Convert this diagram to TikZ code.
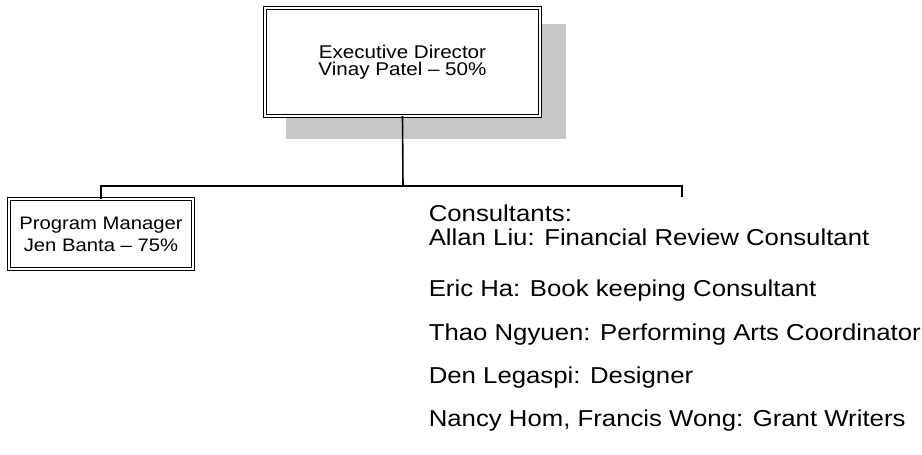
\documentclass[tikz,border=0pt]{standalone}
\usepackage{fontspec}
\setmainfont{Liberation Sans}
\newfontfamily\chartfont[FakeStretch=1.12]{Liberation Sans}
\definecolor{shadowgray}{RGB}{200,200,200}
\tikzset{
  postbox/.style={draw, double, double distance=2pt, line width=1.2pt, fill=white,
    inner sep=0pt, outer sep=0pt, align=center},
  staffline/.style={anchor=base west, inner sep=0pt,
    font=\chartfont\fontsize{23}{23}\selectfont}
}
\begin{document}
\begin{tikzpicture}[x=1pt, y=-1pt, line width=1.6pt]
  \useasboundingbox (0,0) rectangle (922,455);
  \fill[shadowgray] (286,24) rectangle (566,139);
  \node[postbox, minimum width=274.6pt, minimum height=108pt,
        font=\chartfont\fontsize{18.4}{17}\selectfont] (exec) at (402.5,62)
        {Executive Director\\Vinay Patel – 50\%};
  \node[postbox, minimum width=183.6pt, minimum height=69.6pt,
        font=\chartfont\fontsize{18.1}{22}\selectfont] (pm) at (101,234)
        {Program Manager\\Jen Banta – 75\%};
  \coordinate (bus) at (403,186);
  \coordinate (cons) at (682,197);
  \draw (exec.south) -- (bus);
  \draw (pm.north) |- (bus) -| (cons);
  % consultants
  \node[staffline] (c0) at (428,221) {Consultants:};
  \node[staffline] (c1) at (428,245) {Allan Liu: Financial Review Consultant};
  \node[staffline] (c2) at (428,296) {Eric Ha: Book keeping Consultant};
  \node[staffline] (c3) at (428,340) {Thao Ngyuen: Performing Arts Coordinator};
  \node[staffline] (c4) at (428,383) {Den Legaspi: Designer};
  \node[staffline] (c5) at (428,426) {Nancy Hom, Francis Wong: Grant Writers};
\end{tikzpicture}
\end{document}
